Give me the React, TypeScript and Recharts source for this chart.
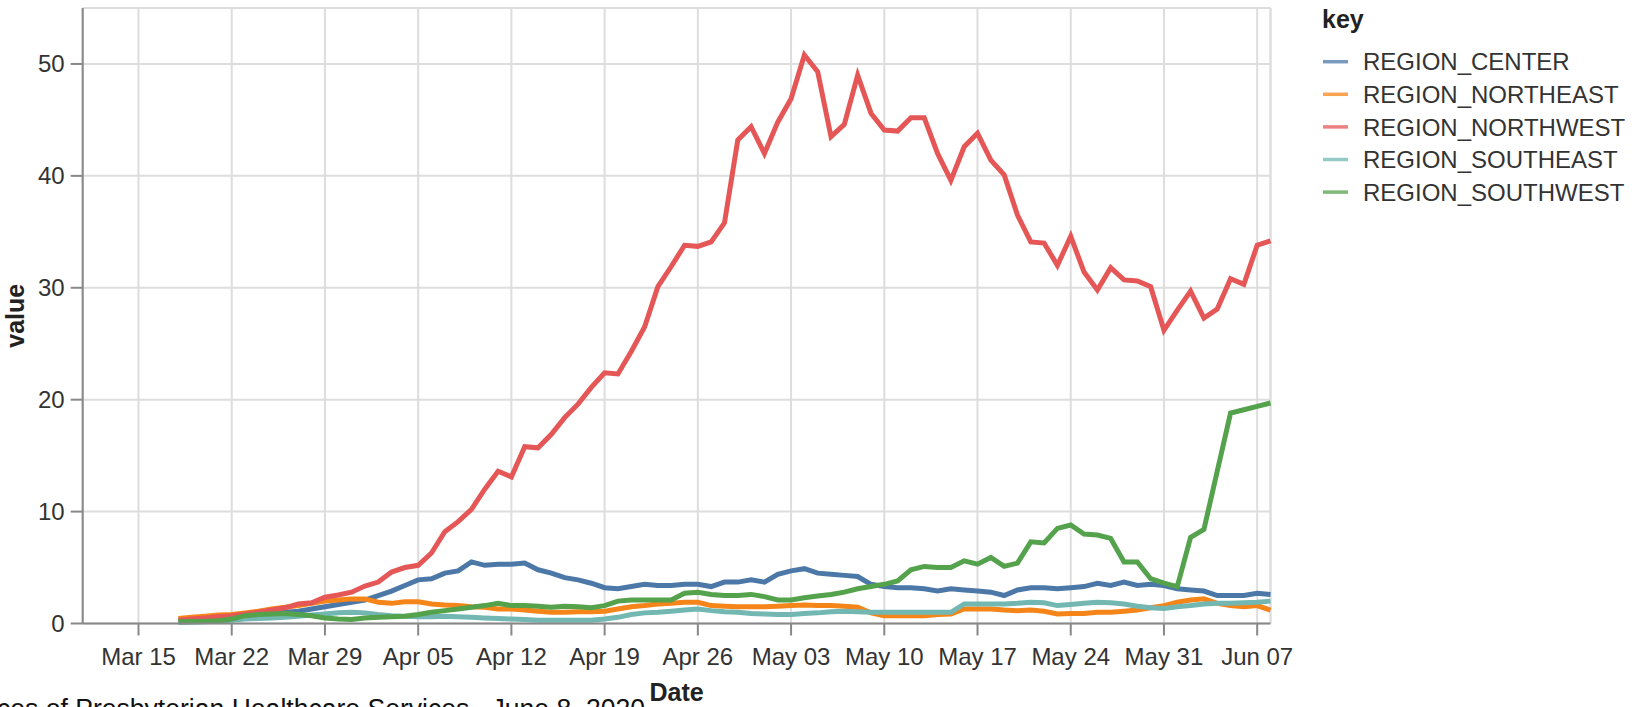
import React from 'react';
import { LineChart, Line, XAxis, YAxis, CartesianGrid, ReferenceLine } from 'recharts';

// days counted from Mar 15, 2020; data runs Mar 18 .. Jun 08
const firstDay = 3;
const tickDays = [0, 7, 14, 21, 28, 35, 42, 49, 56, 63, 70, 77, 84];
const tickLabels = ['Mar 15', 'Mar 22', 'Mar 29', 'Apr 05', 'Apr 12', 'Apr 19', 'Apr 26', 'May 03', 'May 10', 'May 17', 'May 24', 'May 31', 'Jun 07'];
const yTicks = [0, 10, 20, 30, 40, 50];

const center = [
  0.25, 0.3, 0.35, 0.4, 0.5, 0.6, 0.7, 0.85, 1.0, 1.1,
  1.3, 1.5, 1.7, 1.9, 2.1, 2.5, 2.9, 3.4, 3.9, 4.0,
  4.5, 4.7, 5.5, 5.2, 5.3, 5.3, 5.4, 4.8, 4.5, 4.1,
  3.9, 3.6, 3.2, 3.1, 3.3, 3.5, 3.4, 3.4, 3.5, 3.5,
  3.3, 3.7, 3.7, 3.9, 3.7, 4.4, 4.7, 4.9, 4.5, 4.4,
  4.3, 4.2, 3.5, 3.3, 3.2, 3.2, 3.1, 2.9, 3.1, 3.0,
  2.9, 2.8, 2.5, 3.0, 3.2, 3.2, 3.1, 3.2, 3.3, 3.6,
  3.4, 3.7, 3.4, 3.5, 3.4, 3.1, 3.0, 2.9, 2.5, 2.5,
  2.5, 2.7, 2.6,
];
const northeast = [
  0.45, 0.55, 0.65, 0.75, 0.8, 0.95, 1.1, 1.3, 1.45, 1.6,
  1.8, 2.0, 2.1, 2.2, 2.2, 1.9, 1.8, 1.95, 1.95, 1.75,
  1.65, 1.6, 1.5, 1.45, 1.3, 1.3, 1.2, 1.1, 1.0, 1.0,
  1.05, 1.05, 1.1, 1.3, 1.5, 1.6, 1.75, 1.8, 1.9, 1.9,
  1.6, 1.55, 1.5, 1.5, 1.5, 1.55, 1.6, 1.65, 1.6, 1.6,
  1.55, 1.45, 0.95, 0.7, 0.7, 0.7, 0.7, 0.8, 0.85, 1.3,
  1.3, 1.3, 1.2, 1.15, 1.2, 1.1, 0.85, 0.9, 0.9, 1.0,
  1.0, 1.1, 1.2, 1.4, 1.6, 1.9, 2.1, 2.2, 1.8, 1.6,
  1.5, 1.6, 1.2,
];
const northwest = [
  0.3, 0.4, 0.5, 0.6, 0.7, 0.85, 1.0, 1.2, 1.4, 1.75,
  1.85, 2.35, 2.55, 2.8, 3.35, 3.7, 4.6, 5.0, 5.2, 6.3,
  8.2, 9.1, 10.2, 12.0, 13.6, 13.1, 15.8, 15.7, 16.9, 18.4,
  19.6, 21.1, 22.4, 22.3, 24.3, 26.5, 30.1, 31.9, 33.8, 33.7,
  34.1, 35.8, 43.2, 44.4, 42.0, 44.8, 46.9, 50.8, 49.3, 43.5,
  44.6, 49.0, 45.6, 44.1, 44.0, 45.2, 45.2, 42.0, 39.6, 42.6,
  43.8, 41.4, 40.1, 36.5, 34.1, 34.0, 32.0, 34.6, 31.4, 29.8,
  31.8, 30.7, 30.6, 30.1, 26.2, 28.0, 29.7, 27.3, 28.1, 30.8,
  30.3, 33.8, 34.2,
];
const southeast = [
  0.1, 0.12, 0.15, 0.2, 0.3, 0.4, 0.45, 0.5, 0.55, 0.65,
  0.75, 0.85, 0.95, 1.0, 0.95, 0.8, 0.7, 0.65, 0.6, 0.6,
  0.65, 0.6, 0.55, 0.5, 0.45, 0.4, 0.35, 0.3, 0.3, 0.3,
  0.3, 0.3, 0.4, 0.55, 0.8, 0.95, 1.0, 1.1, 1.2, 1.3,
  1.15, 1.05, 1.0, 0.9, 0.85, 0.8, 0.8, 0.9, 0.95, 1.05,
  1.1, 1.05, 1.0, 1.0, 1.0, 1.0, 1.0, 1.0, 1.0, 1.75,
  1.75, 1.75, 1.75, 1.8, 1.9, 1.85, 1.6, 1.7, 1.8, 1.9,
  1.85, 1.75, 1.55, 1.4, 1.35, 1.5, 1.6, 1.75, 1.8, 1.8,
  1.85, 1.9, 2.0,
];
const southwest = [
  0.15, 0.18, 0.2, 0.25, 0.4, 0.7, 0.8, 0.85, 0.9, 0.8,
  0.7, 0.5, 0.4, 0.35, 0.5, 0.55, 0.6, 0.65, 0.8, 1.0,
  1.15, 1.3, 1.45, 1.6, 1.8, 1.6, 1.6, 1.55, 1.45, 1.55,
  1.5, 1.4, 1.6, 2.0, 2.1, 2.1, 2.1, 2.1, 2.7, 2.8,
  2.6, 2.5, 2.5, 2.6, 2.4, 2.1, 2.1, 2.3, 2.45, 2.6,
  2.8, 3.1, 3.3, 3.5, 3.8, 4.8, 5.1, 5.0, 5.0, 5.6,
  5.3, 5.9, 5.1, 5.4, 7.3, 7.2, 8.5, 8.8, 8.0, 7.9,
  7.6, 5.5, 5.5, 4.0, 3.6, 3.3, 7.7, 8.4, 13.6, 18.8,
  19.1, 19.4, 19.7,
];

const seriesKeys = ['REGION_CENTER', 'REGION_NORTHEAST', 'REGION_NORTHWEST', 'REGION_SOUTHEAST', 'REGION_SOUTHWEST'];
const seriesColors = ['#4c78a8', '#f58518', '#e45756', '#72b7b2', '#54a24b'];
const seriesValues = [center, northeast, northwest, southeast, southwest];

const rows = center.map((_, i) => {
  const row: Record<string, number> = { day: firstDay + i };
  seriesKeys.forEach((k, j) => {
    row[k] = seriesValues[j][i];
  });
  return row;
});

const font = "'Liberation Sans', Arial, sans-serif";
const axisStroke = { stroke: '#888', strokeWidth: 2 };

export default function App() {
  return (
    <div style={{ position: 'fixed', left: 0, top: 0, width: 1643, height: 707, overflow: 'hidden', background: '#fff' }}>
      <LineChart width={1643} height={707} data={rows} margin={{ top: 8, right: 372.5, left: 0, bottom: 0 }}>
        <CartesianGrid stroke="#ddd" strokeWidth={2} />
        <ReferenceLine y={55} stroke="#ddd" strokeWidth={2} />
        <ReferenceLine x={85} stroke="#ddd" strokeWidth={2} />
        <XAxis
          type="number"
          dataKey="day"
          domain={[-4.19, 85]}
          ticks={tickDays}
          interval={0}
          tickFormatter={(d: number) => tickLabels[tickDays.indexOf(d)]}
          height={83.5}
          tickSize={12}
          tickMargin={12}
          axisLine={axisStroke}
          tickLine={axisStroke}
          tick={{ fill: '#333', fontSize: 24, fontFamily: font }}
          label={{ value: 'Date', position: 'insideBottom', offset: 6.5, style: { fill: '#222', fontSize: 25, fontWeight: 'bold', fontFamily: font } }}
        />
        <YAxis
          type="number"
          domain={[0, 55]}
          ticks={yTicks}
          interval={0}
          width={82.7}
          tickSize={12}
          tickMargin={6}
          axisLine={axisStroke}
          tickLine={axisStroke}
          tick={{ fill: '#333', fontSize: 24, fontFamily: font }}
          label={{ value: 'value', angle: -90, position: 'insideLeft', offset: 15, style: { textAnchor: 'middle', fill: '#222', fontSize: 25, fontWeight: 'bold', fontFamily: font } }}
        />
        {seriesKeys.map((k, j) => (
          <Line
            key={k}
            type="linear"
            dataKey={k}
            stroke={seriesColors[j]}
            strokeWidth={5}
            dot={false}
            activeDot={false}
            isAnimationActive={false}
          />
        ))}
      </LineChart>
      <svg width={1643} height={707} style={{ position: 'absolute', left: 0, top: 0, pointerEvents: 'none' }}>
        <text x={1322} y={28} fontSize={25} fontWeight="bold" fill="#222" fontFamily={font}>key</text>
        {seriesKeys.map((k, j) => (
          <g key={k}>
            <line x1={1323} x2={1348} y1={61.7 + j * 32.6} y2={61.7 + j * 32.6} stroke={seriesColors[j]} strokeOpacity={0.75} strokeWidth={3.5} />
            <text x={1363} y={61.7 + j * 32.6 + 8.6} fontSize={24} fill="#333" fontFamily={font}>{k}</text>
          </g>
        ))}
        <text x={-3} y={718} fontSize={27} fill="#111" fontFamily={font} textLength={648} lengthAdjust="spacingAndGlyphs">
          ces of Presbyterian Healthcare Services , June 8, 2020
        </text>
      </svg>
    </div>
  );
}
